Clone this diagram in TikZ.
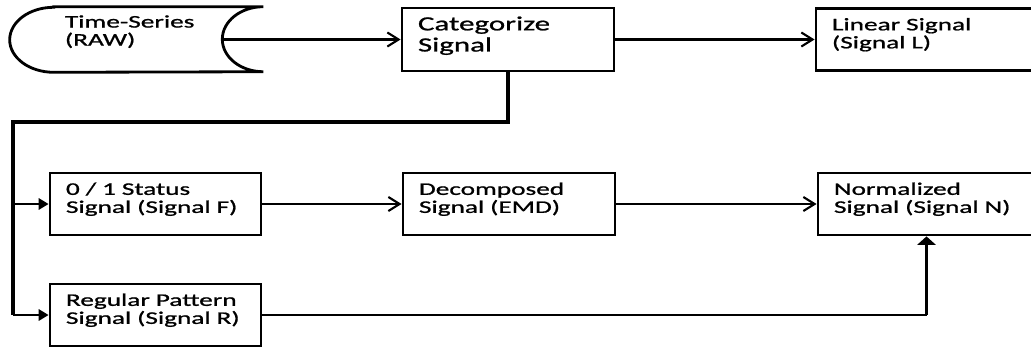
\documentclass[tikz,border=0pt]{standalone}
\usepackage{fontspec}
\setmainfont{Carlito}[FakeStretch=1.54,FakeBold=1]
\usepackage{tikz}
\usetikzlibrary{arrows.meta}
\tikzset{
    Box/.style = {draw,line width=2pt,minimum width=5.3cm,minimum height=1.55cm,
        inner xsep=0.4cm,text width=4.5cm,align=left,
        execute at begin node={\hyphenpenalty=10000},
        font=\fontsize{12.6pt}{12.8pt}\selectfont,text height=9pt,text depth=22pt},
    Store/.style = {minimum width=6.325cm,minimum height=1.625cm,
        inner xsep=1.375cm,text width=3.575cm,align=left,
        execute at begin node={\hyphenpenalty=10000},
        font=\fontsize{12.6pt}{12.8pt}\selectfont,text height=9pt,text depth=26pt},
    Arrow/.style = {line width=1.5pt,-{Straight Barb[length=8pt,width=10pt]}},
    Feed/.style = {line width=1.5pt,-{Triangle[length=7pt,width=8pt]}},
    Trunk/.style = {line width=2.8pt},
    Rise/.style = {line width=2.8pt,-{Triangle[length=6pt,width=13pt]}}
}
\begin{document}
\begin{tikzpicture}[x=0.025cm,y=-0.025cm]
    \useasboundingbox (0,0) rectangle (1031,351);
    % top row
    \node[Store] (raw) at (136.5,39.5) {Time-Series\\(RAW)};
    \draw[line width=2pt] ([xshift=1.1cm]raw.north west) -- (raw.north east)
        arc[start angle=90,end angle=270,x radius=1.025cm,y radius=0.8125cm]
        -- ([xshift=1.1cm]raw.south west)
        arc[start angle=270,end angle=90,x radius=1.1cm,y radius=0.8125cm] -- cycle;
    \coordinate (rawtip) at ([xshift=-1.025cm]raw.east);
    \node[Box,minimum height=1.575cm,font=\fontsize{14.3pt}{15pt}\selectfont] (cat) at (508,39.5) {Categorize\\Signal};
    \node[Box,minimum width=5.475cm,text width=4.675cm] (lin) at (925.5,39.5) {Linear~Signal\\(Signal~L)};
    % middle and bottom rows
    \node[Box,minimum width=5.275cm,text width=4.475cm] (F) at (155.5,204) {0~/~1~Status\\Signal~(Signal~F)};
    \node[Box] (dec) at (509,204) {Decomposed\\Signal~(EMD)};
    \node[Box,minimum width=5.425cm,text width=4.625cm] (nor) at (926.5,204) {Normalized\\Signal~(Signal~N)};
    \node[Box,minimum width=5.275cm,text width=4.475cm] (R) at (155.5,315) {Regular~Pattern\\Signal~(Signal~R)};
    % connectors
    \draw[Arrow] (rawtip) -- (cat.west);
    \draw[Arrow] (cat.east) -- (lin.west);
    \coordinate (bend) at (13,122);
    \draw[Trunk] (cat.south) |- (bend) -- (bend |- R.west);
    \draw[Feed] (bend |- F.west) -- (F.west);
    \draw[Feed] (bend |- R.west) -- (R.west);
    \draw[Arrow] (F.east) -- (dec.west);
    \draw[Arrow] (dec.east) -- (nor.west);
    \draw[line width=1.5pt] (R.east) -- (R.east -| nor.south);
    \draw[Rise] (R.east -| nor.south) -- (nor.south);
\end{tikzpicture}
\end{document}
